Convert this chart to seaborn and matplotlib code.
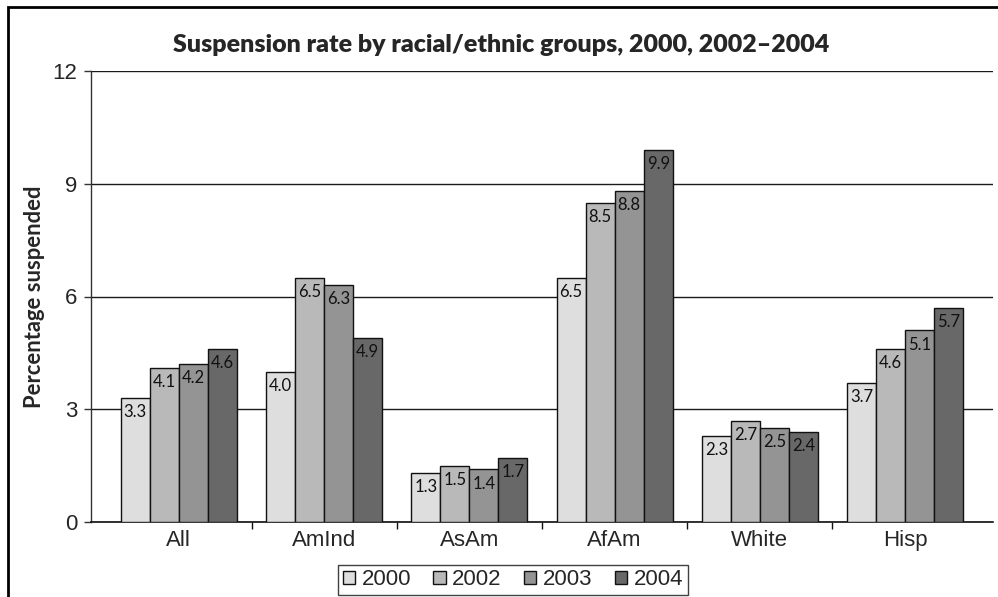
import matplotlib
matplotlib.use("Agg")
import matplotlib.pyplot as plt
from matplotlib.patches import Rectangle
import numpy as np
import pandas as pd
import seaborn as sns

# Suspension rates (%) by group and year
groups = ["All", "AmInd", "AsAm", "AfAm", "White", "Hisp"]
years = ["2000", "2002", "2003", "2004"]
rate_2000 = [3.3, 4.0, 1.3, 6.5, 2.3, 3.7]
rate_2002 = [4.1, 6.5, 1.5, 8.5, 2.7, 4.6]
rate_2003 = [4.2, 6.3, 1.4, 8.8, 2.5, 5.1]
rate_2004 = [4.6, 4.9, 1.7, 9.9, 2.4, 5.7]
y_ticks = [0, 3, 6, 9, 12]

colors = ["#dedede", "#b9b9b9", "#949494", "#686868"]

df = pd.DataFrame({
    "group": groups * 4,
    "year": [y for y in years for _ in groups],
    "rate": rate_2000 + rate_2002 + rate_2003 + rate_2004,
})

sns.set_style("white")
plt.rcParams["font.family"] = ["Liberation Sans", "DejaVu Sans"]
humanist = ["Lato", "Open Sans", "DejaVu Sans"]

fig = plt.figure(figsize=(9.98, 5.97), dpi=100)
ax = fig.add_axes([91 / 998, 1 - 522 / 597, (993 - 91) / 998, (522 - 71) / 597])

sns.barplot(data=df, x="group", y="rate", hue="year", order=groups,
            hue_order=years, palette=colors, width=0.8, gap=0,
            edgecolor="#111111", linewidth=1.0, saturation=1,
            errorbar=None, legend=True, ax=ax, zorder=3)

ax.set_ylim(0, 12)
ax.set_xlim(-0.605, 5.605)
ax.set_yticks(y_ticks)
ax.yaxis.grid(True, color="#1a1a1a", linewidth=1.0, zorder=0)
ax.set_axisbelow(True)
ax.tick_params(axis="y", length=5, width=1, color="#333333", labelsize=16, pad=5, left=True)
ax.tick_params(axis="x", which="major", length=0, labelsize=16, pad=6)
ax.set_xticks(np.arange(0.5, 5.0, 1.0), minor=True)
ax.tick_params(axis="x", which="minor", length=5, width=1, color="#111111", bottom=True)
ax.set_xlabel("")
ax.set_ylabel("Percentage suspended", fontsize=15.8, fontweight="bold",
              family=humanist, labelpad=5)

for side in ["top", "right"]:
    ax.spines[side].set_visible(False)
ax.spines["left"].set_color("#333333")
ax.spines["left"].set_linewidth(1.0)
ax.spines["bottom"].set_color("#111111")
ax.spines["bottom"].set_linewidth(1.2)

# Value labels just inside the top of each bar
for container in ax.containers:
    ax.bar_label(container, fmt="%.1f", padding=-16, fontsize=12,
                 family=humanist, color="#111111")

handles, labels = ax.get_legend_handles_labels()
ax.get_legend().remove()
fig.legend(handles, labels, loc="center", bbox_to_anchor=(0.514, 0.0285),
           ncol=4, fontsize=16, frameon=True, fancybox=False, edgecolor="#111111",
           handlelength=0.55, handleheight=0.55, handletextpad=0.3,
           columnspacing=1.0, borderpad=0.2, borderaxespad=0)
fig.legends[0].get_frame().set_linewidth(1.0)

fig.text(0.502, 1 - 45 / 597, "Suspension rate by racial/ethnic groups, 2000, 2002\u20132004",
         ha="center", va="center", fontsize=18, fontweight="heavy",
         family=humanist)

# Outer frame
fig.add_artist(Rectangle((8 / 998, -0.1), 1.2, (597 - 7) / 597 + 0.1,
                         transform=fig.transFigure, fill=False,
                         edgecolor="black", linewidth=2.0))

fig.savefig("out.png", dpi=100)
